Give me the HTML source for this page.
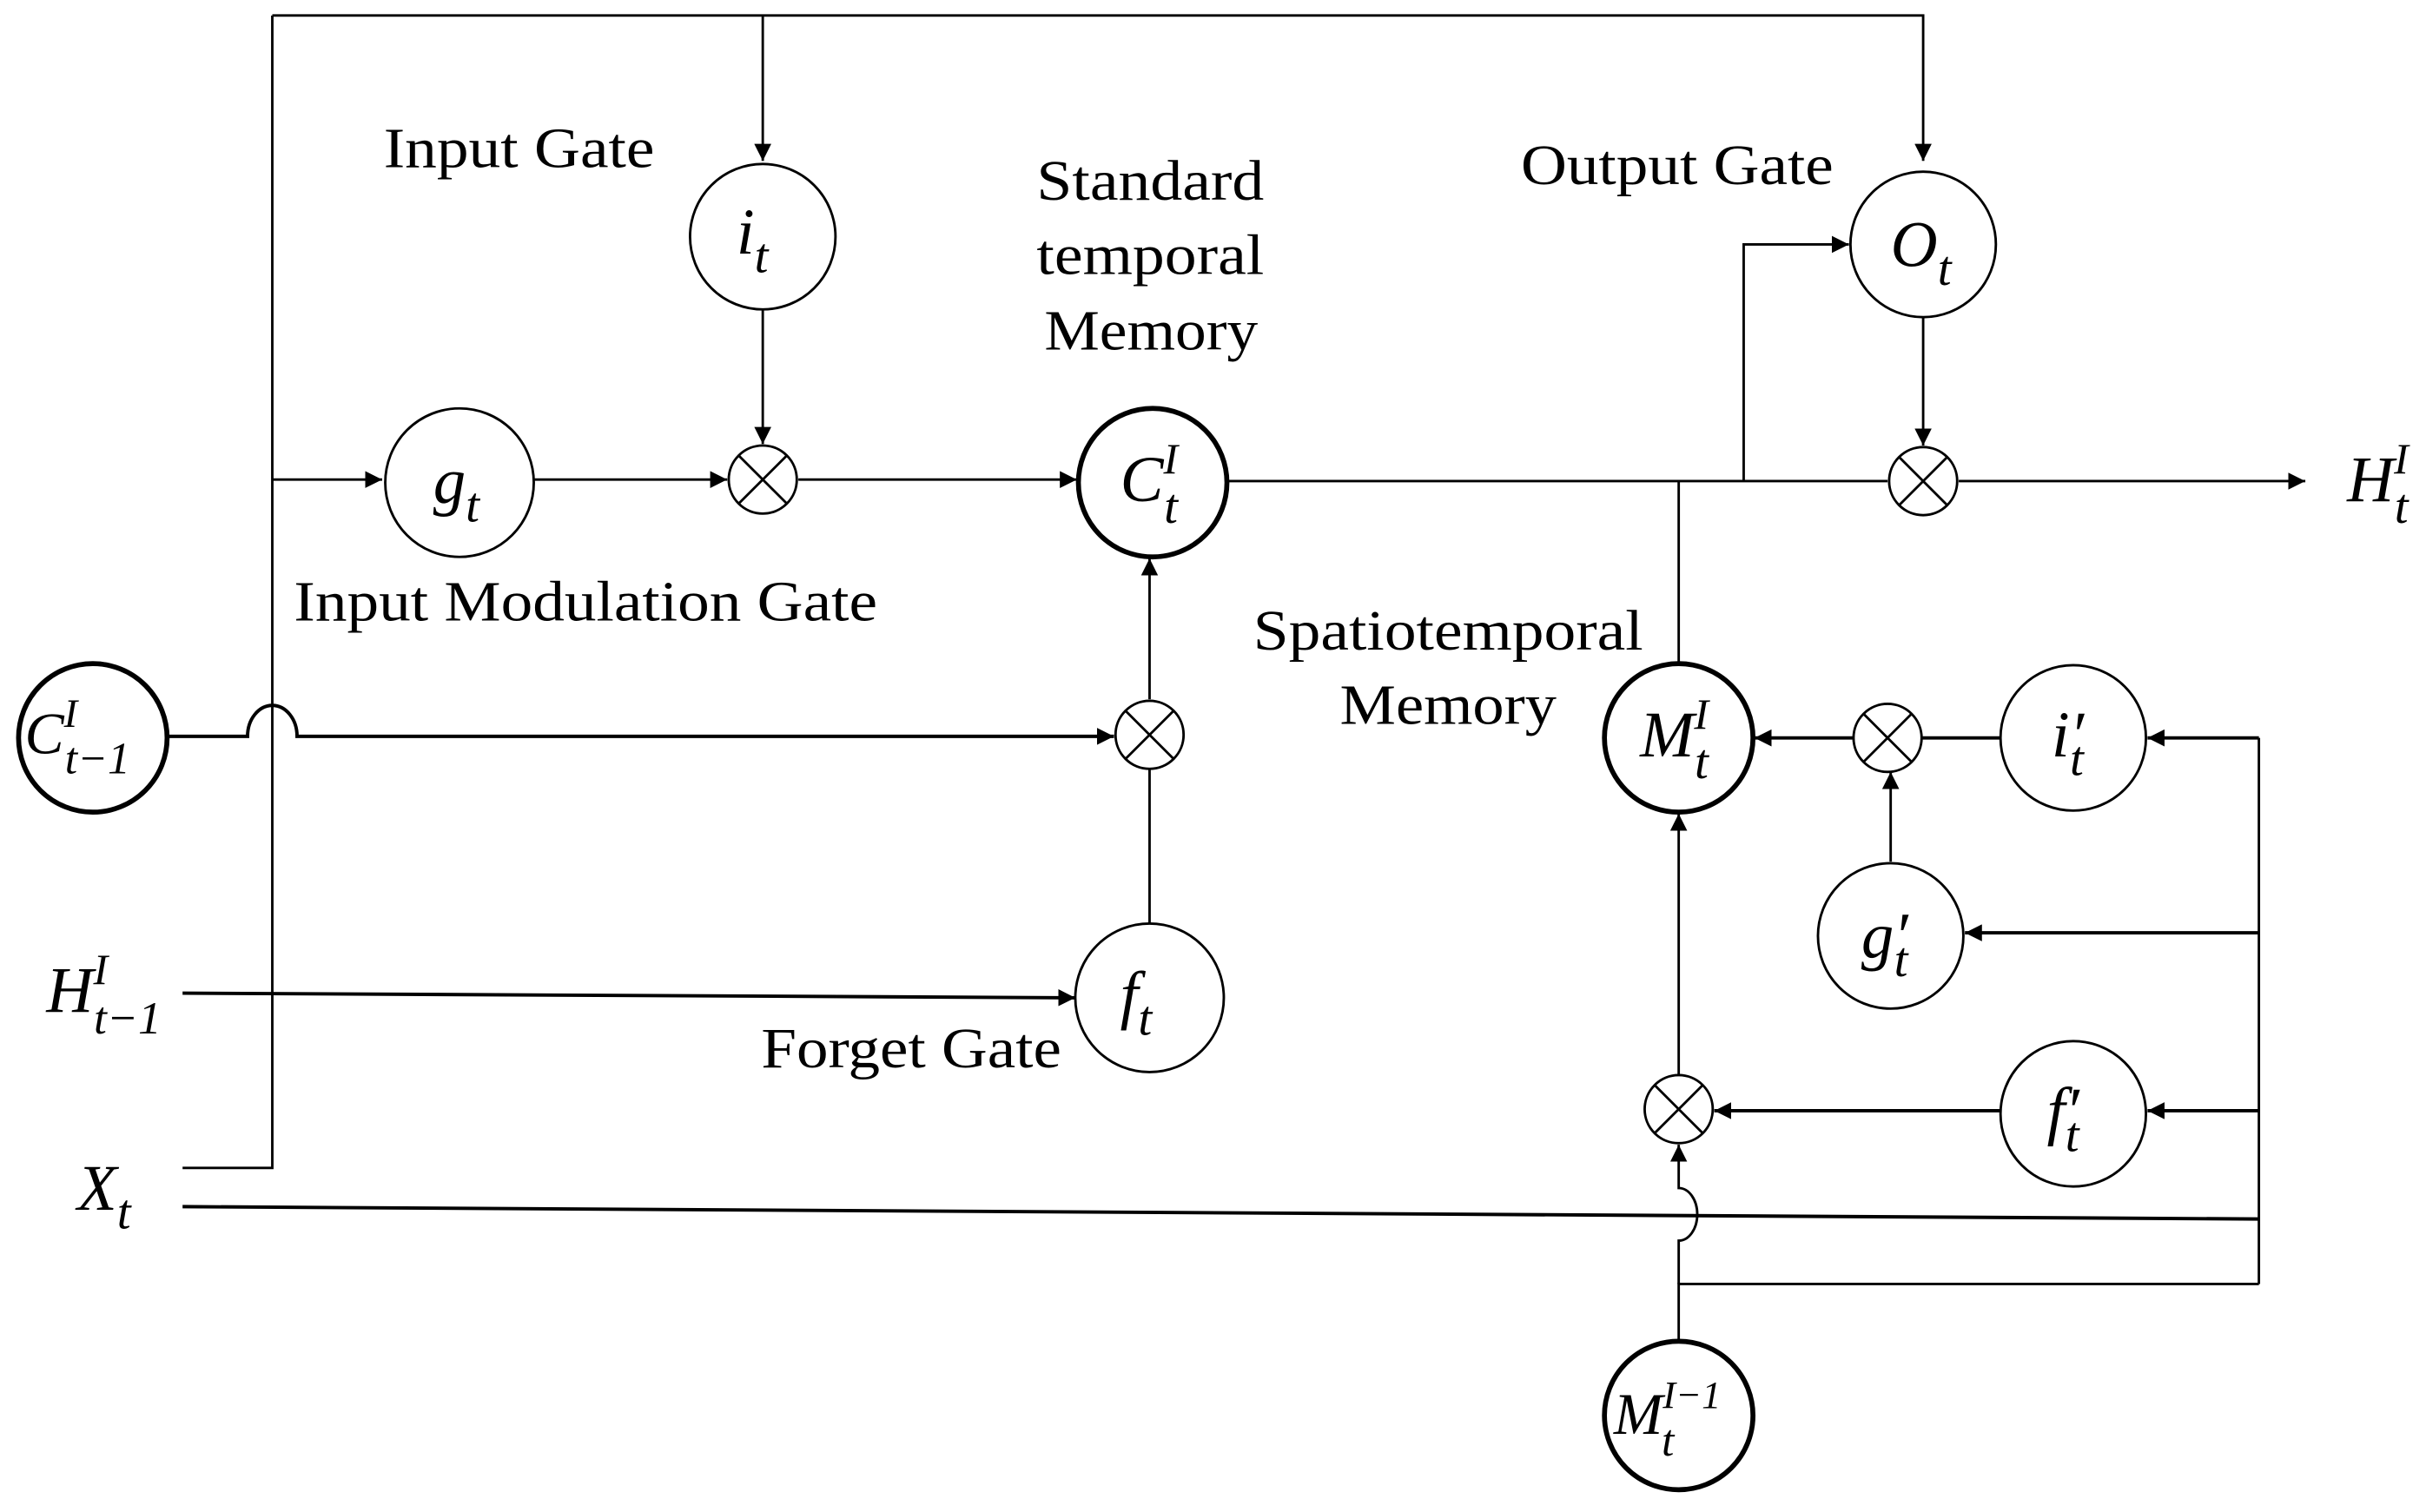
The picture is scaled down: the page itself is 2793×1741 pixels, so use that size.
<!DOCTYPE html>
<html><head><meta charset="utf-8"><style>html,body{margin:0;padding:0;background:#fff;}svg{display:block}</style></head>
<body>
<svg width="2793" height="1741" viewBox="0 0 1568 977.4" preserveAspectRatio="none" xmlns="http://www.w3.org/2000/svg">
<defs>
<marker id="a" viewBox="0 0 10 10" refX="10" refY="5" markerWidth="11" markerHeight="11" markerUnits="userSpaceOnUse" orient="auto"><path d="M0,0 L10,5 L0,10 z" fill="#000"/></marker>
</defs>
<g fill="none" stroke="#000" stroke-width="1.6">
<path d="M176,10 H1243 V104" marker-end="url(#a)"/>
<path d="M493,10 V104" marker-end="url(#a)"/>
<path d="M176,10 V755 H118"/>
<path d="M493,200 V287" marker-end="url(#a)"/>
<path d="M176,310 H247" marker-end="url(#a)"/>
<path d="M345,310 H470" marker-end="url(#a)"/>
<path d="M516,310 H696" marker-end="url(#a)"/>
<path d="M793,311 H1220"/>
<path d="M1266,311 H1490" marker-end="url(#a)"/>
<path d="M1127,311 V158 H1195" marker-end="url(#a)"/>
<path d="M1243,205 V288" marker-end="url(#a)"/>
<path d="M1085,311 V429"/>
<path d="M108,476 H160 A16,20 0 0 1 192,476 H720" marker-end="url(#a)" stroke-width="2.2"/>
<path d="M743,497 V597"/>
<path d="M743,452 V361" marker-end="url(#a)"/>
<path d="M118,642 L695,645" marker-end="url(#a)" stroke-width="2.2"/>
<path d="M1460,477 V830"/>
<path d="M1460,477 H1388" marker-end="url(#a)" stroke-width="2.2"/>
<path d="M1460,603 H1270" marker-end="url(#a)" stroke-width="2.2"/>
<path d="M1460,718 H1388" marker-end="url(#a)" stroke-width="2.2"/>
<path d="M1293,477 H1242" stroke-width="2.2"/>
<path d="M1198,477 H1134" marker-end="url(#a)" stroke-width="2.2"/>
<path d="M1222,557 V499" marker-end="url(#a)"/>
<path d="M1293,718 H1108" marker-end="url(#a)" stroke-width="2.2"/>
<path d="M1085,695 V526" marker-end="url(#a)"/>
<path d="M118,780 L1460,788" stroke-width="2.2"/>
<path d="M1085,867 V830 H1460"/>
<path d="M1085,830 V802 A12,17 0 0 0 1085,768 V740" marker-end="url(#a)"/>
</g>
<g fill="#fff" stroke="#000">
<circle cx="493" cy="153" r="47" stroke-width="1.6"/>
<circle cx="297" cy="312" r="48" stroke-width="1.6"/>
<circle cx="745" cy="312" r="48" stroke-width="3.2"/>
<circle cx="1243" cy="158" r="47" stroke-width="1.6"/>
<circle cx="60" cy="477" r="48" stroke-width="3.2"/>
<circle cx="743" cy="645" r="48" stroke-width="1.6"/>
<circle cx="1085" cy="477" r="48" stroke-width="3.2"/>
<circle cx="1340" cy="477" r="47" stroke-width="1.6"/>
<circle cx="1222" cy="605" r="47" stroke-width="1.6"/>
<circle cx="1340" cy="720" r="47" stroke-width="1.6"/>
<circle cx="1085" cy="915" r="48" stroke-width="3.2"/>
</g>
<g fill="#fff" stroke="#000" stroke-width="1.6">
<g transform="translate(493,310)"><circle r="22"/><path d="M-15.5,-15.5 L15.5,15.5 M-15.5,15.5 L15.5,-15.5"/></g>
<g transform="translate(1243,311)"><circle r="22"/><path d="M-15.5,-15.5 L15.5,15.5 M-15.5,15.5 L15.5,-15.5"/></g>
<g transform="translate(743,475)"><circle r="22"/><path d="M-15.5,-15.5 L15.5,15.5 M-15.5,15.5 L15.5,-15.5"/></g>
<g transform="translate(1220,477)"><circle r="22"/><path d="M-15.5,-15.5 L15.5,15.5 M-15.5,15.5 L15.5,-15.5"/></g>
<g transform="translate(1085,717)"><circle r="22"/><path d="M-15.5,-15.5 L15.5,15.5 M-15.5,15.5 L15.5,-15.5"/></g>
</g>
<g font-family="Liberation Serif, serif" font-size="37" fill="#000">
<text x="248" y="108" textLength="175" lengthAdjust="spacingAndGlyphs">Input Gate</text>
<text x="670" y="129" textLength="147" lengthAdjust="spacingAndGlyphs">Standard</text>
<text x="670" y="177" textLength="147" lengthAdjust="spacingAndGlyphs">temporal</text>
<text x="675" y="226" textLength="138" lengthAdjust="spacingAndGlyphs">Memory</text>
<text x="983" y="119" textLength="202" lengthAdjust="spacingAndGlyphs">Output Gate</text>
<text x="190" y="401" textLength="377" lengthAdjust="spacingAndGlyphs">Input Modulation Gate</text>
<text x="492" y="690" textLength="194" lengthAdjust="spacingAndGlyphs">Forget Gate</text>
<text x="810" y="420" textLength="252" lengthAdjust="spacingAndGlyphs">Spatiotemporal</text>
<text x="866" y="468" textLength="140" lengthAdjust="spacingAndGlyphs">Memory</text>
</g>
<g font-family="Liberation Serif, serif" font-style="italic" font-size="42" fill="#000">
<text x="476" y="164">i<tspan font-size="32" dy="12">t</tspan></text>
<text x="280" y="325">g<tspan font-size="32" dy="12">t</tspan></text>
<text x="724" y="324">C<tspan font-size="28" dy="-18">I</tspan><tspan font-size="32" dx="-9" dy="32">t</tspan></text>
<text x="1222" y="172">O<tspan font-size="32" dy="12">t</tspan></text>
<text x="1517" y="324">H<tspan font-size="28" dy="-18">I</tspan><tspan font-size="32" dx="-9" dy="32">t</tspan></text>
<text x="16" y="487" font-size="38">C<tspan font-size="26" dy="-17">I</tspan><tspan font-size="29" dx="-8" dy="30">t−1</tspan></text>
<text x="30" y="654">H<tspan font-size="28" dy="-18">I</tspan><tspan font-size="30" dx="-9" dy="32">t−1</tspan></text>
<text x="724" y="657">f<tspan font-size="32" dy="12">t</tspan></text>
<text x="50" y="782">X<tspan font-size="32" dy="12">t</tspan></text>
<text x="1060" y="489">M<tspan font-size="28" dy="-18">I</tspan><tspan font-size="32" dx="-9" dy="32">t</tspan></text>
<text x="1326" y="489">i′<tspan font-size="32" dx="-9" dy="12">t</tspan></text>
<text x="1203" y="619">g′<tspan font-size="32" dx="-9" dy="12">t</tspan></text>
<text x="1323" y="732">f′<tspan font-size="32" dx="-9" dy="12">t</tspan></text>
<text x="1043" y="927" font-size="38">M<tspan font-size="25" dy="-17">I−1</tspan></text>
<text x="1074" y="941" font-size="29">t</text>
</g>
</svg>
</body></html>
